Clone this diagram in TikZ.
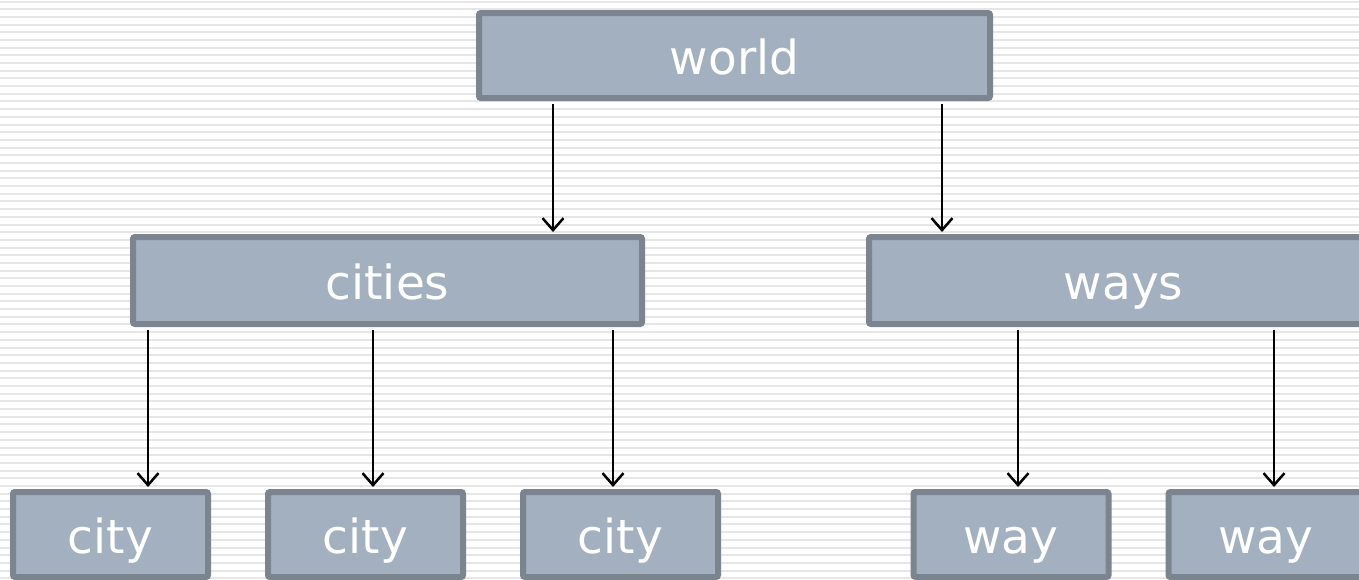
\documentclass[tikz,border=0pt]{standalone}
\usepackage{fontspec}
\setmainfont{DejaVu Sans}
\usetikzlibrary{arrows.meta}
\definecolor{boxfill}{RGB}{163,176,191}
\definecolor{boxline}{RGB}{123,133,144}
\definecolor{stripe}{RGB}{230,230,230}
\begin{document}
\begin{tikzpicture}[x=1pt, y=-1pt, font=\fontsize{47}{50}\selectfont]
    \tikzstyle{treebox}=[draw=boxline, fill=boxfill, line width=6pt, rounded corners=2pt, text=white, text height=49pt, text depth=12pt, inner sep=0pt, minimum height=85pt]
    \tikzstyle{bigbox}=[treebox, minimum width=509pt]
    \tikzstyle{leafbox}=[treebox, minimum width=195pt]
    \tikzstyle{link}=[-{Straight Barb[length=12pt, width=21pt]}, line width=2.5pt, shorten <=3pt, shorten >=2pt]

    \useasboundingbox (0,0) rectangle (1359,579);
    \clip (0,0) rectangle (1359,579);
    \fill[white] (0,0) rectangle (1359,579);
    \foreach \k in {0,...,75}
        \draw[stripe, line width=2pt] (0,1.5+7.69*\k) -- (1359,1.5+7.69*\k);

    \node[bigbox, minimum width=511pt] (world) at (734.5,55.5) {world};

    \node[bigbox, minimum height=87pt] (cities) at (387.5,280.5) {cities};
    \node[bigbox, minimum height=87pt] (ways) at (1123.5,280.5) {ways};

    \node[leafbox] (city0) at (110.5,534.5) {city};
    \node[leafbox] (city1) at (365.5,534.5) {city};
    \node[leafbox] (city2) at (620.5,534.5) {city};

    \node[leafbox] (way0) at (1011,534.5) {way};
    \node[leafbox] (way1) at (1266,534.5) {way};

    \draw[link] ([xshift=-181.5pt]world.south) -- ([xshift=-181.5pt]world.south |- cities.north);
    \draw[link] ([xshift=207.5pt]world.south) -- ([xshift=207.5pt]world.south |- ways.north);

    \draw[link] ([xshift=37.5pt]city0.north |- cities.south) -- ([xshift=37.5pt]city0.north);
    \draw[link] ([xshift=7.5pt]city1.north |- cities.south) -- ([xshift=7.5pt]city1.north);
    \draw[link] ([xshift=-7.5pt]city2.north |- cities.south) -- ([xshift=-7.5pt]city2.north);

    \draw[link] ([xshift=7pt]way0.north |- ways.south) -- ([xshift=7pt]way0.north);
    \draw[link] ([xshift=8pt]way1.north |- ways.south) -- ([xshift=8pt]way1.north);
  \end{tikzpicture}
\end{document}
